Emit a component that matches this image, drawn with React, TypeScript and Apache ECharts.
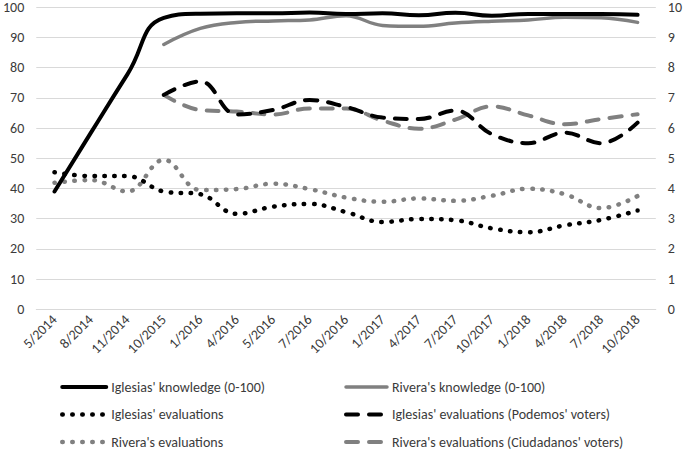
import React, { useEffect, useRef } from "react";
import * as echarts from "echarts";

const categories = ["5/2014", "8/2014", "11/2014", "10/2015", "1/2016", "4/2016", "5/2016", "7/2016", "10/2016", "1/2017", "4/2017", "7/2017", "10/2017", "1/2018", "4/2018", "7/2018", "10/2018"];

const iglesiasKnowledge = [39, 58.5, 77.8, 96.5, 97.9, 98, 98, 98.3, 97.8, 98, 97.4, 98.2, 97.2, 97.8, 97.8, 97.8, 97.5];
const riveraKnowledge = [null, null, null, 87.7, 93, 95, 95.5, 95.8, 97.2, 94, 93.7, 94.8, 95.4, 95.8, 96.7, 96.5, 95];
const iglesiasEval = [4.54, 4.41, 4.41, 3.9, 3.81, 3.16, 3.4, 3.49, 3.22, 2.89, 2.99, 2.95, 2.68, 2.55, 2.78, 2.96, 3.27];
const iglesiasEvalPodemos = [null, null, null, 7.1, 7.55, 6.45, 6.6, 6.93, 6.7, 6.35, 6.3, 6.58, 5.8, 5.5, 5.85, 5.5, 6.18];
const riveraEval = [4.19, 4.28, 3.9, 4.95, 3.95, 3.98, 4.16, 3.98, 3.7, 3.56, 3.67, 3.59, 3.76, 3.99, 3.81, 3.35, 3.75];
const riveraEvalCs = [null, null, null, 7.1, 6.6, 6.55, 6.45, 6.65, 6.65, 6.25, 5.98, 6.28, 6.72, 6.42, 6.13, 6.3, 6.46];

const leftTicks = { min: 0, max: 100, interval: 10 };
const rightTicks = { min: 0, max: 10, interval: 1 };

const FONT = "Carlito, 'Liberation Sans Narrow', 'Liberation Sans', sans-serif";
const TEXT = "#3b3b3b";
const GRID = "#d9d9d9";
const BLACK = "#000000";
const GREY = "#808080";

const solidStyle = (color: string, width: number) => ({ color, width, type: "solid", cap: "round" });
const dottedStyle = (color: string) => ({ color, width: 4.5, type: [0.5, 9.5], cap: "round" });
const dashedStyle = (color: string) => ({ color, width: 4, type: [12, 11], cap: "round" });

const NAMES = {
  ik: "Iglesias' knowledge (0-100)",
  rk: "Rivera's knowledge (0-100)",
  ie: "Iglesias' evaluations",
  iep: "Iglesias' evaluations (Podemos' voters)",
  re: "Rivera's evaluations",
  rec: "Rivera's evaluations (Ciudadanos' voters)",
};

export default function App() {
  const ref = useRef<HTMLDivElement>(null);
  useEffect(() => {
    if (!ref.current) return;
    const chart = echarts.init(ref.current, null, { renderer: "svg" });
    const smooth = 0.4;
    const styles: Record<string, any> = {
      [NAMES.ik]: solidStyle(BLACK, 4),
      [NAMES.rk]: solidStyle(GREY, 3.5),
      [NAMES.ie]: dottedStyle(BLACK),
      [NAMES.iep]: dashedStyle(BLACK),
      [NAMES.re]: dottedStyle(GREY),
      [NAMES.rec]: dashedStyle(GREY),
    };
    const legendItem = (name: string) => ({
      name,
      itemStyle: { color: "rgba(0,0,0,0)", borderWidth: 0, opacity: 0 },
      lineStyle: styles[name],
    });
    const legendBase = {
      orient: "vertical",
      top: 380,
      padding: 0,
      itemHeight: 14,
      itemGap: 13.5,
      textStyle: { fontFamily: FONT, fontSize: 14, color: TEXT },
      itemStyle: { color: "rgba(0,0,0,0)", borderWidth: 0, opacity: 0 },
    };
    const mk = (name: string, data: (number | null)[], yAxisIndex: number) => ({
      name,
      type: "line",
      yAxisIndex,
      data,
      smooth,
      symbol: "circle",
      showSymbol: false,
      lineStyle: styles[name],
      itemStyle: { color: styles[name].color },
    });
    chart.setOption({
      animation: false,
      textStyle: { fontFamily: FONT },
      grid: { left: 33, right: 28, top: 7.3, bottom: 139.7, containLabel: false },
      legend: [
        { ...legendBase, left: 60, itemWidth: 44, data: [NAMES.ik, NAMES.ie, NAMES.re].map(legendItem) },
        { ...legendBase, left: 344, itemWidth: 41, data: [NAMES.rk, NAMES.iep, NAMES.rec].map(legendItem) },
      ],
      xAxis: {
        type: "category",
        data: categories,
        boundaryGap: true,
        axisLine: { show: true, lineStyle: { color: GRID, width: 1 } },
        axisTick: { show: false },
        axisLabel: { rotate: 45, interval: 0, fontSize: 14, color: TEXT, fontFamily: FONT, margin: 8 },
      },
      yAxis: [
        {
          type: "value",
          min: leftTicks.min,
          max: leftTicks.max,
          interval: leftTicks.interval,
          axisLine: { show: false },
          axisTick: { show: false },
          splitLine: { show: true, lineStyle: { color: GRID, width: 1 } },
          axisLabel: { fontSize: 14, color: TEXT, fontFamily: FONT, margin: 12 },
        },
        {
          type: "value",
          position: "right",
          min: rightTicks.min,
          max: rightTicks.max,
          interval: rightTicks.interval,
          axisLine: { show: false },
          axisTick: { show: false },
          splitLine: { show: false },
          axisLabel: { fontSize: 14, color: TEXT, fontFamily: FONT, margin: 12 },
        },
      ],
      series: [
        mk(NAMES.re, riveraEval, 1),
        mk(NAMES.ie, iglesiasEval, 1),
        mk(NAMES.rec, riveraEvalCs, 1),
        mk(NAMES.iep, iglesiasEvalPodemos, 1),
        mk(NAMES.rk, riveraKnowledge, 0),
        { ...mk(NAMES.ik, iglesiasKnowledge, 0), smooth: 0.5 },
      ],
    });
    return () => chart.dispose();
  }, []);
  return <div ref={ref} style={{ position: "absolute", left: 0, top: 0, width: 685, height: 449 }} />;
}
